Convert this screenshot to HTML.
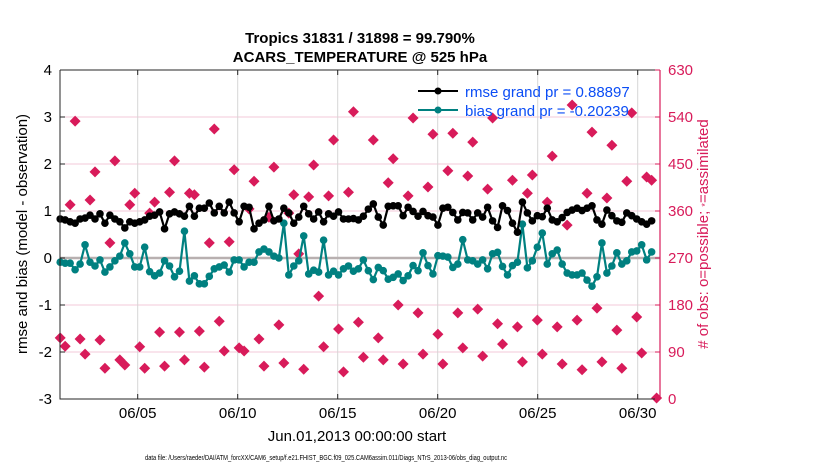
<!DOCTYPE html>
<html><head><meta charset="utf-8"><style>
body{margin:0;background:#fff;}
svg{display:block;font-family:"Liberation Sans",Arial,sans-serif;}
</style></head><body>
<svg id="chart" width="830" height="470" viewBox="0 0 830 470" xmlns="http://www.w3.org/2000/svg">
<rect width="830" height="470" fill="#fff"/>
<text x="360" y="43" text-anchor="middle" font-size="15" font-weight="bold">Tropics 31831 / 31898 = 99.790%</text>
<text x="360" y="62" text-anchor="middle" font-size="15" font-weight="bold">ACARS_TEMPERATURE @ 525 hPa</text>
<g id="grid"></g>
<g id="marks"></g>
<g id="axes"></g>
<text transform="translate(27,234) rotate(-90)" text-anchor="middle" font-size="15">rmse and bias (model - observation)</text>
<text transform="translate(708,234) rotate(-90)" text-anchor="middle" font-size="15" fill="#d81b5a"># of obs: o=possible; <tspan font-size="9">*</tspan>=assimilated</text>
<text x="357" y="441" text-anchor="middle" font-size="15">Jun.01,2013 00:00:00 start</text>
<text x="145" y="460" font-size="7" textLength="362" lengthAdjust="spacingAndGlyphs">data file: /Users/raeder/DAI/ATM_forcXX/CAM6_setup/f.e21.FHIST_BGC.f09_025.CAM6assim.011/Diags_NTrS_2013-06/obs_diag_output.nc</text>
<g>
<line x1="418" y1="91" x2="458" y2="91" stroke="#000" stroke-width="2"/>
<circle cx="438" cy="91" r="3.5" fill="#000"/>
<text x="465" y="97" font-size="15" fill="#0b4df5">rmse grand pr = 0.88897</text>
<line x1="418" y1="110" x2="458" y2="110" stroke="#008080" stroke-width="2"/>
<circle cx="438" cy="110" r="3.5" fill="#008080"/>
<text x="465" y="116" font-size="15" fill="#0b4df5">bias grand pr = -0.20239</text>
</g>
</svg>
<script>
const rmseValues=[.83,.81,.77,.74,.83,.85,.91,.83,.94,.74,.91,.83,.77,.64,.77,.74,.77,.81,.89,.91,.98,.62,.94,.98,.94,.89,1.1,.89,1.06,1.06,1.17,.96,
1.1,.96,1.19,.96,.77,1.1,1.08,.62,.74,.81,1.1,.79,.83,1.06,.96,.74,.87,1.1,.94,.83,.98,.77,.94,.89,.98,.83,.83,.84,.81,.89,
1.04,1.15,.87,.70,1.1,1.11,1.11,.9,1.08,.99,.89,.99,.9,.87,.70,1.06,1.08,.97,.81,.97,.96,.81,.96,.87,1.08,.79,.65,1.11,1.01,.74,
.55,1.19,.96,.79,.9,.88,1.06,.81,.77,.86,.97,1.02,1.06,1.01,1.06,1.11,.81,.72,1.02,.9,.79,.76,.96,.9,.83,.77,.72,.79];
const biasValues=[-.09,-.11,-.11,-.25,-.13,.28,-.09,-.17,-.04,-.3,-.19,-.06,.04,.32,.09,-.19,-.19,.23,-.29,-.38,-.32,-.06,-.17,-.4,-.28,.57,-.49,-.38,-.55,-.55,-.39,-.23,
-.19,-.15,-.3,-.04,-.04,-.19,-.09,-.09,.13,.19,.13,.04,0,.74,-.36,-.17,-.06,.47,-.34,-.26,-.3,.38,-.36,-.28,-.36,-.23,-.17,-.28,-.23,-.04,
-.27,-.46,-.2,-.27,-.45,-.41,-.34,-.48,-.38,-.16,-.27,.11,-.16,-.34,.05,.04,.02,-.2,-.13,.39,-.04,-.06,-.13,-.04,-.23,.09,.12,-.18,-.36,-.16,
-.09,.72,-.21,-.06,.23,.53,-.13,.09,.17,-.13,-.32,-.36,-.36,-.32,-.47,-.6,-.4,.32,-.32,-.17,.11,-.13,-.06,.13,.15,.28,-.04,.13];
const obsCounts=[117,101,372,532,115,86,381,435,113,59,299,456,75,65,372,394,100,59,356,377,128,63,396,456,128,75,394,391,130,61,299,517,
149,92,301,439,98,92,364,417,115,63,348,444,142,69,356,391,278,57,387,448,197,100,389,496,134,52,396,550,147,80,null,
496,117,75,414,460,180,67,389,538,165,86,406,507,124,67,437,509,165,98,427,492,172,82,402,538,144,105,null,
419,138,71,394,429,151,86,377,465,138,67,333,563,151,56,394,511,174,71,385,486,132,59,417,548,157,88,425,419,2];
const xTickDays=[5,10,15,20,25,30];
const xTickLabels=["06/05","06/10","06/15","06/20","06/25","06/30"];
const yTicks=[-3,-2,-1,0,1,2,3,4];
const y2Ticks=[0,90,180,270,360,450,540,630];

const L=60,R=660,T=70,B=399;
const dayMin=1.115,dayMax=31.115;
const xDay=d=>L+(d-dayMin)/(dayMax-dayMin)*(R-L);
const xIdx=i=>xDay(1.125+0.2485*i);
const yL=v=>B-(v+3)/7*(B-T);
const yR=v=>B-v/630*(B-T);
const NS="http://www.w3.org/2000/svg";
function mk(parent,tag,attrs){const e=document.createElementNS(NS,tag);for(const k in attrs)e.setAttribute(k,attrs[k]);parent.appendChild(e);return e;}
const grid=document.getElementById('grid'),marks=document.getElementById('marks'),axes=document.getElementById('axes');

y2Ticks.forEach(v=>{const g=mk(grid,'line',{x1:L,x2:R,y1:yR(v),y2:yR(v),stroke:'#f3c9d8','stroke-width':1});

});
xTickDays.forEach(d=>{const g=mk(grid,'line',{x1:xDay(d),x2:xDay(d),y1:T,y2:B,stroke:'#d6d6d6','stroke-width':1});

});
const z=mk(grid,'line',{x1:L,x2:R,y1:yL(0),y2:yL(0),stroke:'#b8b0b0','stroke-width':2.5});



obsCounts.forEach((v,i)=>{if(v===null)return;const cx=xIdx(i),cy=yR(v);const s=5.5;
const p=mk(marks,'path',{d:`M${cx} ${cy-s}L${cx+s} ${cy}L${cx} ${cy+s}L${cx-s} ${cy}Z`,fill:'#d81b5a'});

});

function series(vals,color,name){
const pts=vals.map((v,i)=>xIdx(i).toFixed(1)+','+yL(v).toFixed(1)).join(' ');
const pl=mk(marks,'polyline',{points:pts,fill:'none',stroke:color,'stroke-width':2.2,'stroke-linejoin':'round'});


vals.forEach((v,i)=>{const c=mk(marks,'circle',{cx:xIdx(i),cy:yL(v),r:3.8,fill:color});

});}
series(biasValues,'#008080','bias');
series(rmseValues,'#000000','rmse');

const fr=mk(axes,'path',{d:`M${L} ${T}H${R}M${L} ${T}V${B}H${R}`,fill:'none',stroke:'#262626','stroke-width':1});


const ra=mk(axes,'line',{x1:R,x2:R,y1:T,y2:B,stroke:'#d81b5a','stroke-width':1.2});


yTicks.forEach(v=>{const t=mk(axes,'text',{x:L-8,y:yL(v)+5,'text-anchor':'end','font-size':15});t.textContent=v;


const tk=mk(axes,'line',{x1:L,x2:L+5,y1:yL(v),y2:yL(v),stroke:'#262626'});

});
y2Ticks.forEach(v=>{const t=mk(axes,'text',{x:R+8,y:yR(v)+5,'font-size':15,fill:'#d81b5a'});t.textContent=v;


const tk=mk(axes,'line',{x1:R-5,x2:R,y1:yR(v),y2:yR(v),stroke:'#d81b5a'});

});
xTickDays.forEach((d,i)=>{const t=mk(axes,'text',{x:xDay(d),y:B+19,'text-anchor':'middle','font-size':15});t.textContent=xTickLabels[i];


const tk=mk(axes,'line',{x1:xDay(d),x2:xDay(d),y1:B,y2:B-5,stroke:'#262626'});


const tk2=mk(axes,'line',{x1:xDay(d),x2:xDay(d),y1:T,y2:T+5,stroke:'#262626'});

});
</script>
</body></html>
